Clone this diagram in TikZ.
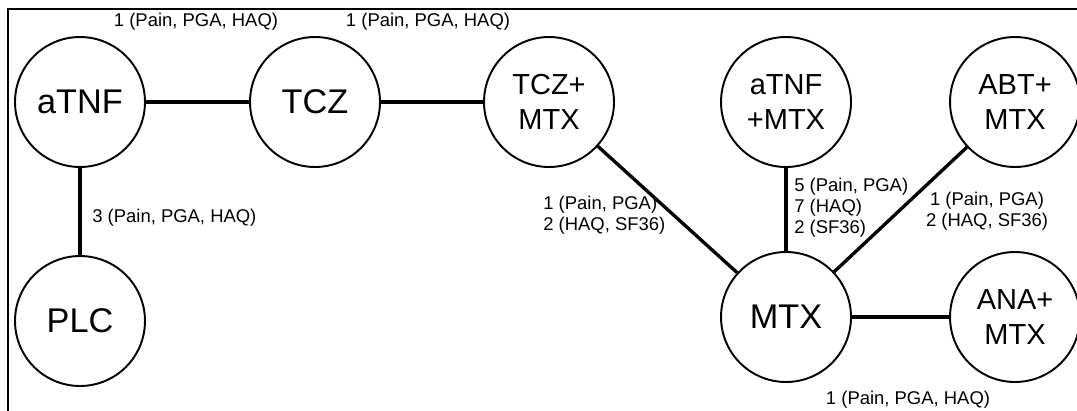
\documentclass[tikz,border=0pt]{standalone}
\usepackage{fontspec}
\setmainfont{Liberation Sans}
\begin{document}
\begin{tikzpicture}[x=0.02cm,y=-0.02cm,
    drug/.style={draw, circle, line width=1.1pt, minimum size=2.6cm, inner sep=0pt, align=center, font=\fontsize{19.5}{23}\selectfont},
    combo/.style={drug, font=\fontsize{16.5}{20}\selectfont},
    link/.style={line width=1.9pt},
    trials/.style={inner sep=0pt, font=\fontsize{10.5}{12}\selectfont}]
    \useasboundingbox (0,0) rectangle (1077,410);
    \draw[line width=1pt] (8,430) -- (8,9) -- (1100,9);

    % treatments
    \node[drug] (atnf) at (80,102) {aTNF};
    \node[drug] (tcz) at (315,102) {TCZ};
    \node[combo] (tczmtx) at (549,102) {TCZ+\\MTX};
    \node[combo] (atnfmtx) at (786,102) {aTNF\\+MTX};
    \node[combo] (abtmtx) at (1015,102) {ABT+\\MTX};
    \node[drug] (plc) at (80,321) {PLC};
    \node[drug] (mtx) at (786,317) {MTX};
    \node[combo] (anamtx) at (1015,317) {ANA+\\MTX};

    % comparisons
    \draw[link] (atnf) -- (tcz);
    \draw[link] (tcz) -- (tczmtx);
    \draw[link] (atnf) -- (plc);
    \draw[link] (tczmtx) -- (mtx);
    \draw[link] (atnfmtx) -- (mtx);
    \draw[link] (abtmtx) -- (mtx);
    \draw[link] (mtx) -- (anamtx);

    % number of trials (outcomes)
    \node[trials] (n-atnf-tcz) at (196,22) {1 (Pain, PGA, HAQ)};
    \node[trials] (n-tcz-tczmtx) at (428,22) {1 (Pain, PGA, HAQ)};
    \node[trials, anchor=west] (n-atnf-plc) at (92,218) {3 (Pain, PGA, HAQ)};
    \node[trials, anchor=west, align=left] (n-tczmtx-mtx) at (543,215) {1 (Pain, PGA)\\2 (HAQ, SF36)};
    \node[trials, anchor=west, align=left] (n-atnfmtx-mtx) at (794,208) {5 (Pain, PGA)\\7 (HAQ)\\2 (SF36)};
    \node[trials, align=center] (n-abtmtx-mtx) at (987,211) {1 (Pain, PGA)\\2 (HAQ, SF36)};
    \node[trials] (n-mtx-anamtx) at (908,400) {1 (Pain, PGA, HAQ)};
\end{tikzpicture}
\end{document}
